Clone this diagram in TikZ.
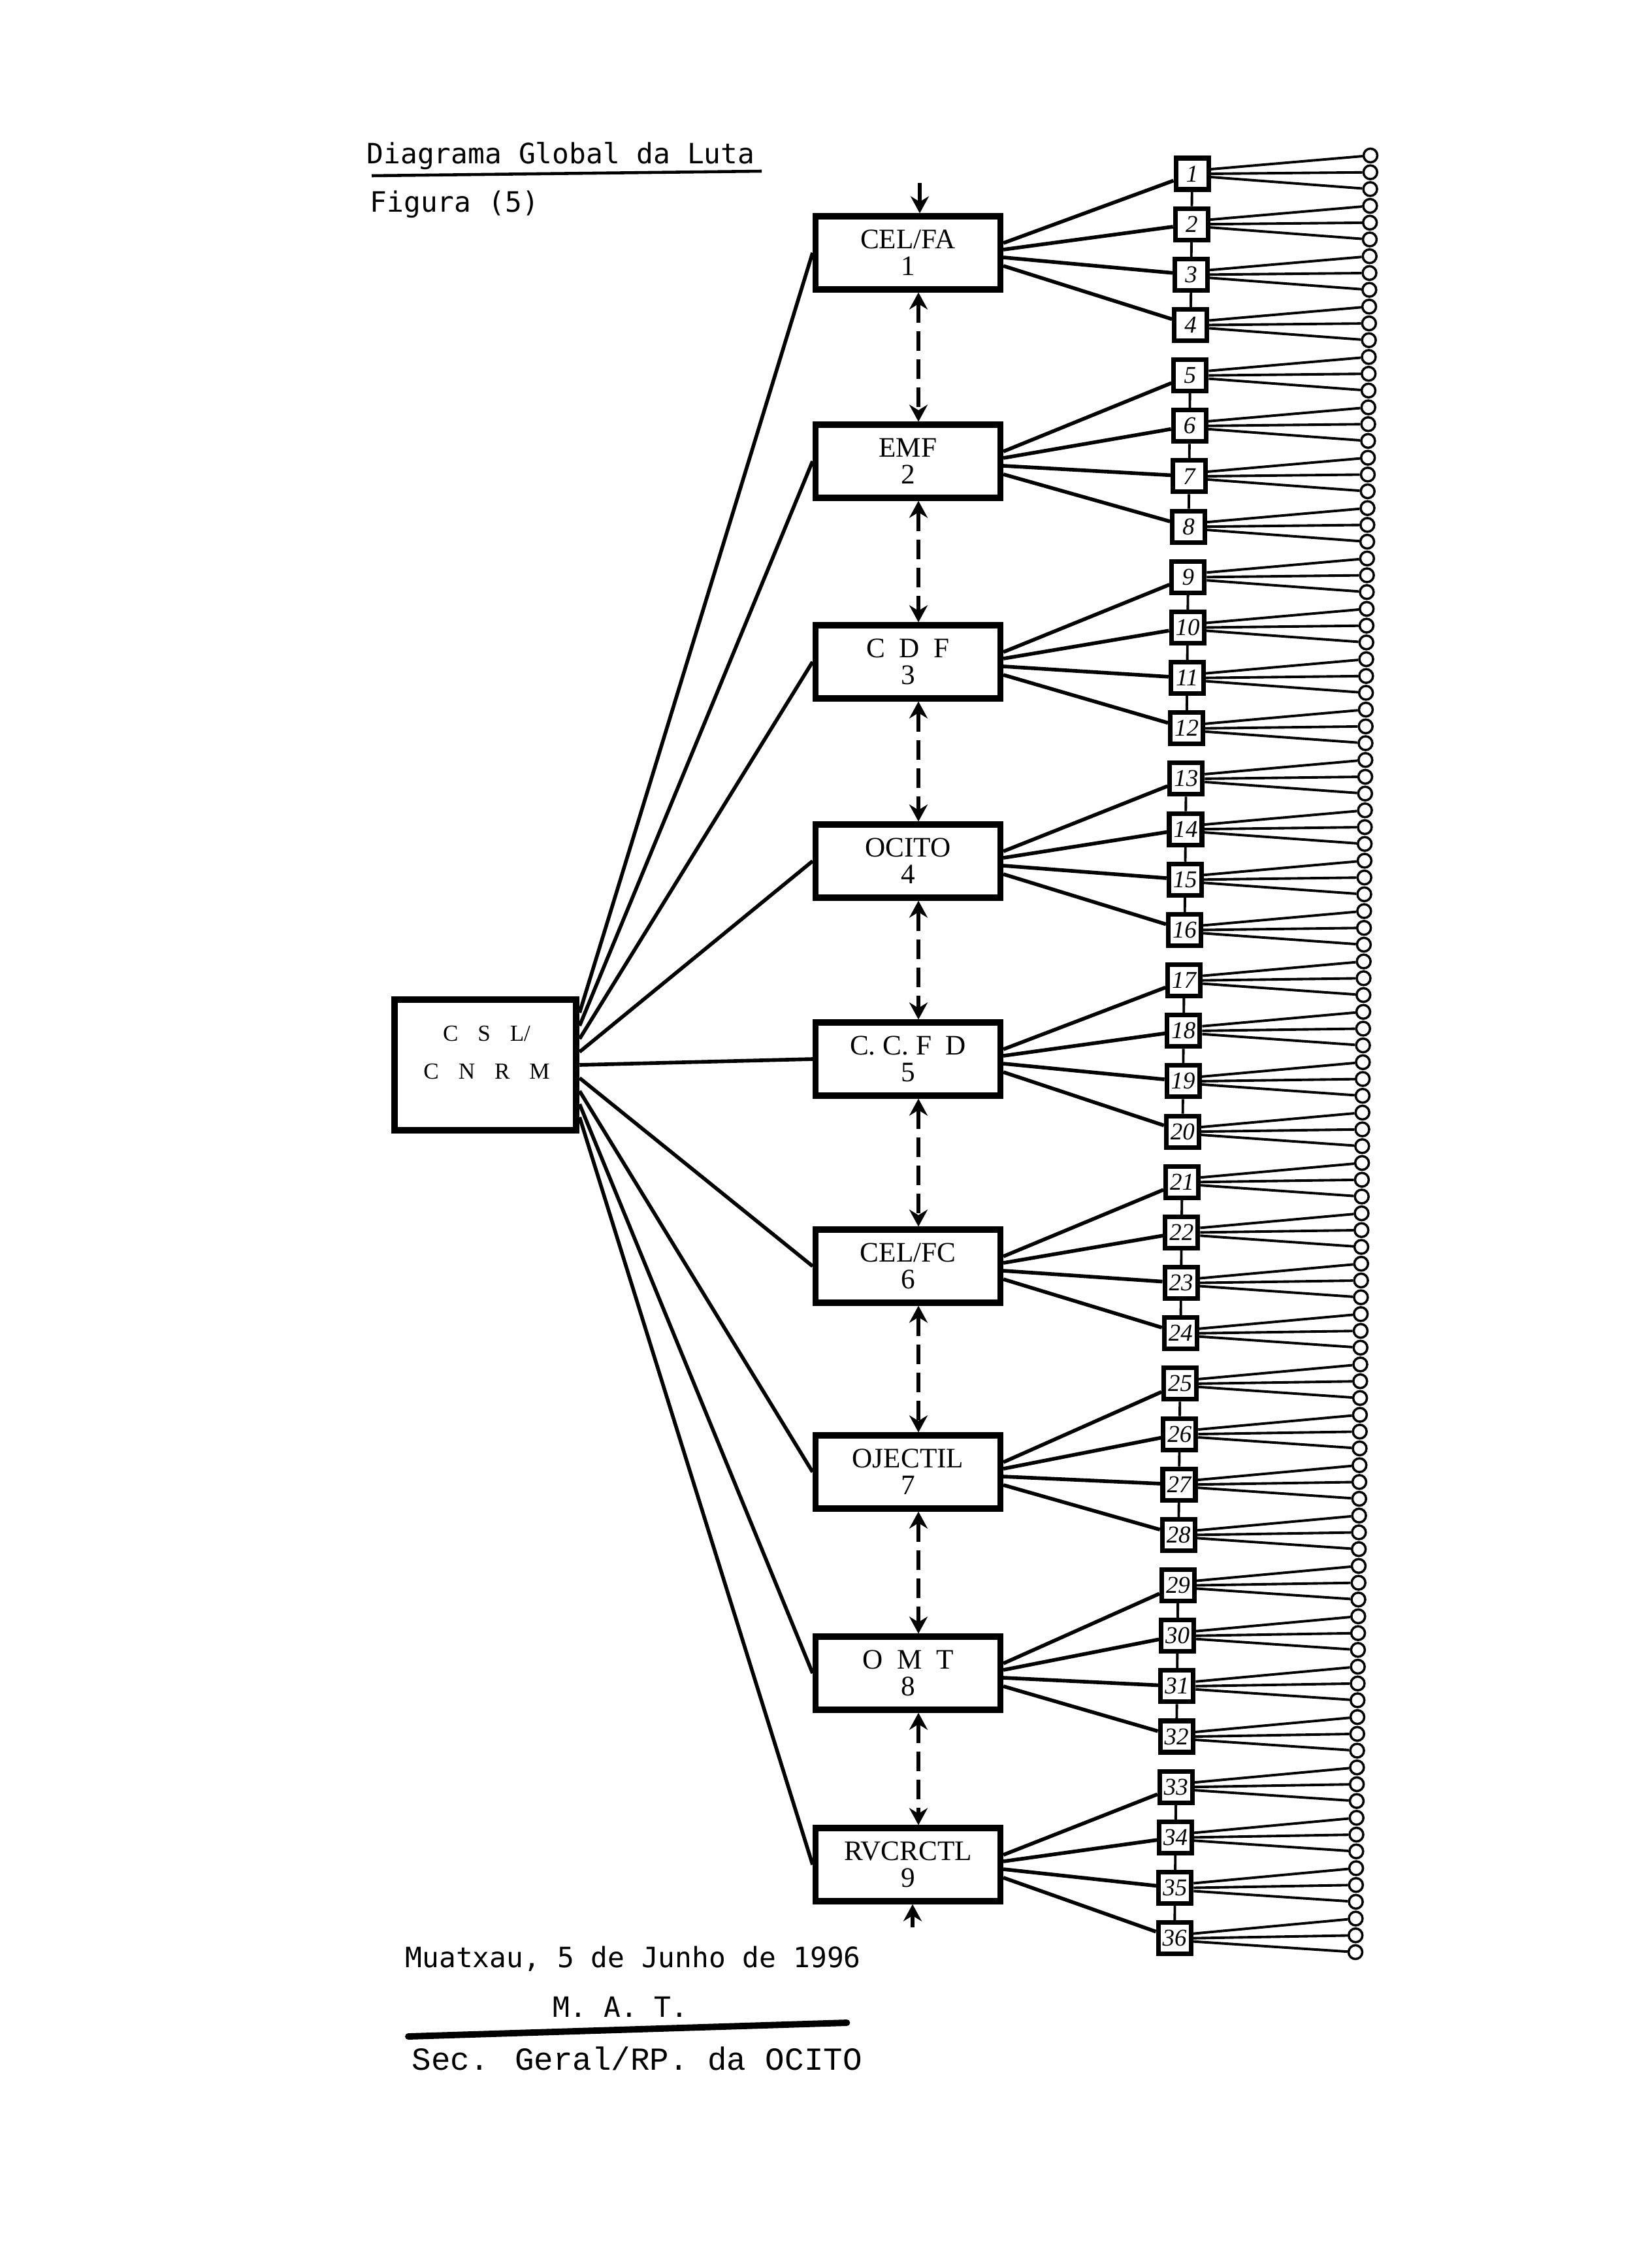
\documentclass[tikz,border=0pt]{standalone}
\usepackage{fontspec}
\usepackage{tikz}
\usetikzlibrary{arrows.meta,calc}
\newfontfamily\typerfont{DejaVu Sans Mono}
\newfontfamily\courfont{Liberation Mono}
\newfontfamily\boxfont{Liberation Serif}

\begin{document}
\begin{tikzpicture}[
  >={Stealth[length=2.6mm,width=2.8mm]},
  every node/.style={font=\small},
  chief/.style={draw,line width=3pt,minimum width=2.78cm,minimum height=2.0cm},
  org/.style ={draw,line width=2.6pt,minimum width=2.83cm,minimum height=1.12cm,
               align=center,font=\fontsize{12.3}{11.6}\boxfont},
  cel/.style ={draw,line width=2pt,minimum width=0.5cm,minimum height=0.48cm,
               inner sep=0pt,font=\fontsize{10.5}{10.5}\boxfont\itshape},
  memb/.style={draw,circle,line width=1pt,minimum size=2.1mm,inner sep=0pt},
  link/.style={line width=1.6pt},
  twig/.style={line width=1.1pt},
  dashlink/.style={line width=1.5pt,dash pattern=on 3mm off 1.3mm},
  typer/.style={font=\fontsize{12.2}{14}\typerfont},
  courier/.style={font=\fontsize{14}{16}\courfont}
]
\path[fill=white] (0,0) rectangle (25.28,-34.5);
\useasboundingbox (0,0) rectangle (25.28,-34.5);

% heading
\node[typer,anchor=base west,inner sep=0pt] (title) at (5.61,-2.51) {Diagrama Global da Luta};
\node[typer,anchor=base west,inner sep=0pt] (fig)   at (5.66,-3.25) {Figura (5)};
\draw[line width=1.3pt] ($(title.base west)+(0.08,-0.18)$) -- ($(title.base east)+(0.1,-0.11)$);

% central command
\node[chief] (csl) at (7.43,-16.3) {};
\node[font=\fontsize{10}{16.5}\boxfont,align=center] (csltxt) at (7.45,-16.11)
   {C\hspace{0.85em}S\hspace{0.85em}L/\\C\hspace{0.85em}N\hspace{0.85em}R\hspace{0.85em}M};

% organisations
\node[org] (org1) at (13.9,-3.87)  {CEL/FA\\1};
\node[org] (org2) at (13.9,-7.06)  {EMF\\2};
\node[org] (org3) at (13.9,-10.13) {C~~D~~F\\3};
\node[org] (org4) at (13.9,-13.18) {OCITO\\4};
\node[org] (org5) at (13.9,-16.21) {C.~C.~F~~D\\5};
\node[org] (org6) at (13.9,-19.38) {CEL/FC\\6};
\node[org] (org7) at (13.9,-22.53) {OJECTIL\\7};
\node[org] (org8) at (13.9,-25.61) {O~~M~~T\\8};
\node[org] (org9) at (13.9,-28.54) {RVCRCTL\\9};

% cells and members
\foreach \k in {1,...,36}{
  \pgfmathsetmacro\cx{18.25-0.0077*(\k-1)}
  \pgfmathsetmacro\cy{-2.66-0.7716*(\k-1)}
  \node[cel] (cel\k) at (\cx,\cy) {\k};
}
\foreach \j in {0,...,107}{
  \pgfmathsetmacro\mx{20.98-0.00215*\j}
  \pgfmathsetmacro\my{-2.38-0.257*\j}
  \node[memb] (mb\j) at (\mx,\my) {};
}

% command lines
\foreach \i in {1,...,9}
  \draw[link] ($(csl.east)+(0,{(5-\i)*0.2})$) -- (org\i.west);

\foreach \i in {1,...,9}{
  \foreach \n/\o in {1/0.15,2/0.05,3/-0.07,4/-0.2}{
    \pgfmathtruncatemacro\k{4*(\i-1)+\n}
    \draw[link] ($(org\i.east)+(0,\o)$) -- (cel\k);
  }
}

\foreach \g in {0,...,8}{
  \foreach \n in {1,2,3}{
    \pgfmathtruncatemacro\a{4*\g+\n}
    \pgfmathtruncatemacro\b{\a+1}
    \draw[twig] (cel\a) -- (cel\b);
  }
}

\foreach \k in {1,...,36}{
  \foreach \n/\o in {0/0.07,1/0,2/-0.05}{
    \pgfmathtruncatemacro\j{3*(\k-1)+\n}
    \draw[twig] ($(cel\k.east)+(0,\o)$) -- (mb\j);
  }
}

% liaison between organisations
\foreach \i in {1,...,8}{
  \pgfmathtruncatemacro\nx{\i+1}
  \draw[dashlink,<->] ($(org\i.south)+(0.16,0)$) -- ($(org\nx.north)+(0.16,0)$);
}
\coordinate (topin) at (14.08,-2.8);
\coordinate (botin) at (13.97,-29.5);
\draw[link,->] (topin) -- (topin |- org1.north);
\draw[link,->] (botin) -- (botin |- org9.south);

% signature
\node[typer,anchor=base west,inner sep=0pt] (place) at (6.2,-30.11) {Muatxau, 5 de Junho de 1996};
\node[typer,anchor=base,inner sep=0pt] (mat) at (9.5,-30.87) {M. A. T.};
\node[courier,anchor=base west,inner sep=0pt] (sec) at (6.3,-31.68) {Sec. Geral/RP. da OCITO};
\draw[line width=2.8pt,line cap=round] ($(place.base west)+(0.05,-1.06)$) -- ($(place.base east)+(-0.22,-0.85)$);
\end{tikzpicture}
\end{document}
